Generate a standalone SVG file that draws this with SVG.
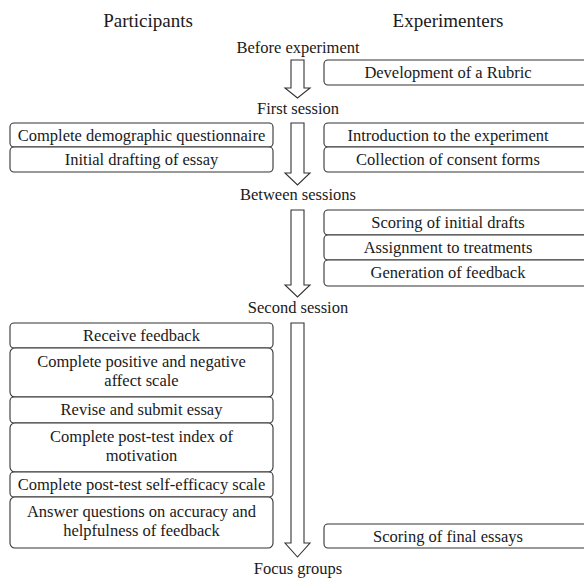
<svg xmlns="http://www.w3.org/2000/svg" width="584" height="579" viewBox="0 0 584 579">
<style>
text{font-family:"Liberation Serif","Times New Roman",serif;fill:#1a1a1a;text-anchor:middle}
.h{font-size:19px}
.t{font-size:16.5px}
.b{fill:#fff;stroke:#333;stroke-width:1.1}
.a{fill:#fff;stroke:#333;stroke-width:1.1;stroke-linejoin:miter}
</style>
<rect width="584" height="579" fill="#fff"/>
<text class="h" x="148" y="27">Participants</text>
<text class="h" x="448" y="27">Experimenters</text>
<text class="t" x="298" y="53">Before experiment</text>
<text class="t" x="298" y="114">First session</text>
<text class="t" x="298" y="200">Between sessions</text>
<text class="t" x="298" y="313">Second session</text>
<text class="t" x="298" y="574">Focus groups</text>
<g id="connectors">
<path class="a" d="M291,60 H304 V88 H310 L297.5,98 L285,88 H291 Z"/>
<path class="a" d="M291,123 H304 V173 H310 L297.5,185 L285,173 H291 Z"/>
<path class="a" d="M291,210 H304 V285 H310 L297.5,297 L285,285 H291 Z"/>
<path class="a" d="M291,323 H304 V543 H310 L297.5,557 L285,543 H291 Z"/>
</g>
<g id="rubric"><rect class="b" x="324" y="60" width="264" height="25" rx="4"/><text class="t" x="448" y="78">Development of a Rubric</text></g>
<g id="demographic"><rect class="b" x="10" y="123" width="263" height="24" rx="4"/><text class="t" x="141.5" y="140.5">Complete demographic questionnaire</text></g>
<g id="drafting"><rect class="b" x="10" y="147" width="263" height="25" rx="4"/><text class="t" x="141.5" y="165">Initial drafting of essay</text></g>
<g id="intro"><rect class="b" x="324" y="123" width="264" height="24" rx="4"/><text class="t" x="448" y="140.5">Introduction to the experiment</text></g>
<g id="consent"><rect class="b" x="324" y="147" width="264" height="25" rx="4"/><text class="t" x="448" y="165">Collection of consent forms</text></g>
<g id="scoring-initial"><rect class="b" x="324" y="210" width="264" height="25" rx="4"/><text class="t" x="448" y="228">Scoring of initial drafts</text></g>
<g id="assignment"><rect class="b" x="324" y="235" width="264" height="25" rx="4"/><text class="t" x="448" y="253">Assignment to treatments</text></g>
<g id="generation"><rect class="b" x="324" y="260" width="264" height="26" rx="4"/><text class="t" x="448" y="278">Generation of feedback</text></g>
<g id="receive"><rect class="b" x="10" y="323" width="263" height="25" rx="4"/><text class="t" x="141.5" y="341">Receive feedback</text></g>
<g id="affect"><rect class="b" x="10" y="348" width="263" height="49" rx="5"/><text class="t" x="141.5" y="367">Complete positive and negative</text><text class="t" x="141.5" y="386">affect scale</text></g>
<g id="revise"><rect class="b" x="10" y="397" width="263" height="26" rx="4"/><text class="t" x="141.5" y="415">Revise and submit essay</text></g>
<g id="motivation"><rect class="b" x="10" y="423" width="263" height="49" rx="5"/><text class="t" x="141.5" y="442">Complete post-test index of</text><text class="t" x="141.5" y="461">motivation</text></g>
<g id="selfefficacy"><rect class="b" x="10" y="472" width="263" height="25" rx="4"/><text class="t" x="141.5" y="490">Complete post-test self-efficacy scale</text></g>
<g id="answer"><rect class="b" x="10" y="497" width="263" height="51" rx="5"/><text class="t" x="141.5" y="517">Answer questions on accuracy and</text><text class="t" x="141.5" y="536">helpfulness of feedback</text></g>
<g id="scoring-final"><rect class="b" x="324" y="524" width="264" height="24" rx="4"/><text class="t" x="448" y="541.5">Scoring of final essays</text></g>
</svg>
